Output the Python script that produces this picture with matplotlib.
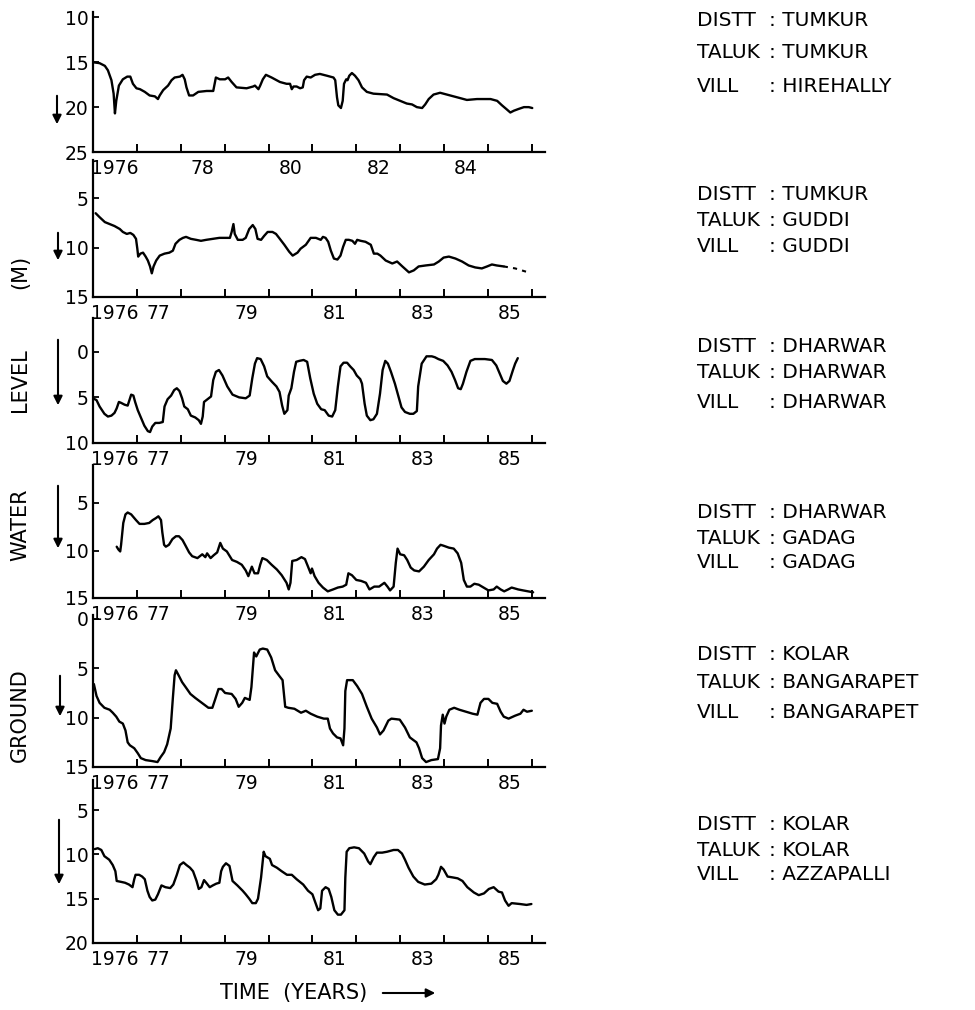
import matplotlib
matplotlib.use("Agg")
import matplotlib.pyplot as plt
from matplotlib.patches import FancyArrowPatch

plt.rcParams['font.family'] = ['DejaVu Sans']

# ==========================================
# DATA: depth to water below ground (m) vs time (years)
# ==========================================
# Tumkur / Tumkur / Hirehally
hire_t = [1976.00, 1976.15, 1976.27, 1976.34, 1976.42, 1976.47, 1976.50, 1976.53, 1976.59, 1976.68,
          1976.78, 1976.85, 1976.91, 1976.99, 1977.07, 1977.18, 1977.29, 1977.41, 1977.48, 1977.52,
          1977.60, 1977.71, 1977.79, 1977.86, 1977.98, 1978.04, 1978.09, 1978.13, 1978.19, 1978.28,
          1978.40, 1978.59, 1978.74, 1978.78, 1978.80, 1978.89, 1979.01, 1979.08, 1979.16, 1979.27,
          1979.50, 1979.65, 1979.69, 1979.77, 1979.81, 1979.87, 1979.94, 1980.07, 1980.26, 1980.41,
          1980.49, 1980.53, 1980.57, 1980.64, 1980.72, 1980.78, 1980.81, 1980.87, 1980.96, 1981.06,
          1981.17, 1981.33, 1981.48, 1981.52, 1981.56, 1981.59, 1981.65, 1981.69, 1981.72, 1981.77,
          1981.80, 1981.84, 1981.90, 1981.97, 1982.05, 1982.13, 1982.24, 1982.39, 1982.70, 1982.85,
          1983.00, 1983.15, 1983.27, 1983.38, 1983.50, 1983.57, 1983.65, 1983.76, 1983.91, 1984.14,
          1984.37, 1984.52, 1984.75, 1985.06, 1985.21, 1985.32, 1985.44, 1985.51, 1985.59, 1985.70,
          1985.82, 1985.93, 1986.01]
hire_d = [15.0, 15.1, 15.4, 15.9, 17.0, 18.5, 20.7, 19.3, 17.6, 16.9,
          16.6, 16.6, 17.4, 17.9, 18.0, 18.3, 18.7, 18.8, 19.1, 18.7,
          18.1, 17.6, 17.0, 16.7, 16.6, 16.4, 16.9, 17.8, 18.7, 18.7,
          18.3, 18.2, 18.2, 17.2, 16.7, 16.9, 16.9, 16.7, 17.2, 17.8,
          17.9, 17.7, 17.6, 18.0, 17.6, 16.9, 16.4, 16.7, 17.2, 17.4,
          17.4, 18.0, 17.7, 17.7, 17.9, 17.8, 17.0, 16.6, 16.7, 16.4,
          16.3, 16.5, 16.7, 17.0, 18.9, 19.8, 20.1, 19.3, 17.4, 16.9,
          17.0, 16.5, 16.2, 16.5, 17.0, 17.8, 18.3, 18.5, 18.6, 19.0,
          19.3, 19.6, 19.7, 20.0, 20.1, 19.7, 19.1, 18.6, 18.4, 18.7,
          19.0, 19.2, 19.1, 19.1, 19.3, 19.8, 20.3, 20.6, 20.4, 20.2,
          20.0, 20.0, 20.1]

# Tumkur / Guddi / Guddi
guddi_t = [1976.06, 1976.15, 1976.27, 1976.38, 1976.49, 1976.61, 1976.68, 1976.77, 1976.85, 1976.92,
           1976.98, 1977.01, 1977.03, 1977.08, 1977.14, 1977.20, 1977.25, 1977.30, 1977.34, 1977.38,
           1977.44, 1977.52, 1977.63, 1977.74, 1977.82, 1977.88, 1977.97, 1978.05, 1978.12, 1978.23,
           1978.35, 1978.46, 1978.58, 1978.73, 1978.88, 1979.03, 1979.12, 1979.16, 1979.20, 1979.23,
           1979.30, 1979.41, 1979.48, 1979.56, 1979.64, 1979.70, 1979.75, 1979.83, 1979.90, 1979.98,
           1980.09, 1980.17, 1980.24, 1980.36, 1980.47, 1980.55, 1980.66, 1980.73, 1980.85, 1980.96,
           1981.08, 1981.19, 1981.24, 1981.30, 1981.36, 1981.42, 1981.49, 1981.57, 1981.64, 1981.70,
           1981.76, 1981.83, 1981.91, 1981.97, 1982.02, 1982.10, 1982.21, 1982.33, 1982.40, 1982.48,
           1982.55, 1982.67, 1982.82, 1982.93, 1983.05, 1983.20, 1983.31, 1983.42, 1983.58, 1983.77,
           1983.88, 1983.99, 1984.11, 1984.26, 1984.41, 1984.56, 1984.71, 1984.86, 1984.98, 1985.09,
           1985.20, 1985.36]
guddi_d = [6.5, 6.9, 7.4, 7.6, 7.8, 8.1, 8.4, 8.6, 8.5, 8.7,
           9.1, 10.1, 10.9, 10.6, 10.5, 10.9, 11.3, 11.9, 12.6, 11.9,
           11.3, 10.8, 10.6, 10.5, 10.3, 9.6, 9.2, 9.0, 8.9, 9.1,
           9.2, 9.3, 9.2, 9.1, 9.0, 9.0, 9.0, 8.4, 7.6, 8.6,
           9.2, 9.2, 9.0, 8.1, 7.7, 8.1, 9.1, 9.2, 8.8, 8.4,
           8.4, 8.6, 9.0, 9.7, 10.4, 10.8, 10.5, 10.1, 9.7, 9.0,
           9.0, 9.2, 8.9, 9.0, 9.4, 10.3, 11.1, 11.2, 10.8, 9.9,
           9.2, 9.2, 9.3, 9.6, 9.2, 9.3, 9.4, 9.7, 10.6, 10.6,
           10.8, 11.3, 11.6, 11.4, 11.9, 12.5, 12.3, 11.9, 11.8, 11.7,
           11.4, 11.0, 10.9, 11.1, 11.4, 11.8, 12.0, 12.1, 11.9, 11.7,
           11.8, 11.9]
# dashed (extrapolated) end of the Guddi record
guddi_dash_t = [1985.36, 1985.62, 1985.92]
guddi_dash_d = [11.9, 12.1, 12.5]

# Dharwar / Dharwar / Dharwar
dhar_t = [1976.00, 1976.08, 1976.15, 1976.26, 1976.34, 1976.42, 1976.49, 1976.54, 1976.59, 1976.64,
          1976.72, 1976.79, 1976.83, 1976.87, 1976.92, 1976.96, 1977.02, 1977.10, 1977.17, 1977.25,
          1977.30, 1977.35, 1977.42, 1977.51, 1977.59, 1977.63, 1977.70, 1977.78, 1977.85, 1977.91,
          1977.97, 1978.03, 1978.08, 1978.16, 1978.23, 1978.33, 1978.41, 1978.46, 1978.50, 1978.53,
          1978.61, 1978.69, 1978.74, 1978.80, 1978.87, 1978.95, 1979.06, 1979.18, 1979.33, 1979.48,
          1979.57, 1979.63, 1979.69, 1979.74, 1979.82, 1979.90, 1979.97, 1980.08, 1980.18, 1980.25,
          1980.31, 1980.36, 1980.43, 1980.46, 1980.52, 1980.58, 1980.63, 1980.70, 1980.80, 1980.88,
          1980.95, 1981.03, 1981.11, 1981.20, 1981.28, 1981.37, 1981.45, 1981.52, 1981.58, 1981.64,
          1981.71, 1981.79, 1981.86, 1981.94, 1982.01, 1982.09, 1982.13, 1982.19, 1982.24, 1982.32,
          1982.39, 1982.47, 1982.54, 1982.60, 1982.66, 1982.72, 1982.79, 1982.88, 1982.96, 1983.03,
          1983.11, 1983.22, 1983.30, 1983.38, 1983.41, 1983.49, 1983.60, 1983.72, 1983.79, 1983.87,
          1983.98, 1984.08, 1984.17, 1984.25, 1984.32, 1984.38, 1984.43, 1984.51, 1984.60, 1984.70,
          1984.93, 1985.09, 1985.19, 1985.27, 1985.34, 1985.42, 1985.49, 1985.57, 1985.62, 1985.68]
dhar_d = [5.1, 5.3, 6.0, 6.8, 7.1, 7.0, 6.7, 6.2, 5.5, 5.6,
          5.8, 5.9, 5.3, 4.7, 4.8, 5.5, 6.4, 7.3, 8.1, 8.7,
          8.8, 8.2, 7.8, 7.8, 7.7, 6.0, 5.2, 4.8, 4.2, 4.0,
          4.3, 5.1, 6.0, 6.3, 7.0, 7.2, 7.5, 7.9, 7.1, 5.5,
          5.2, 4.9, 3.1, 2.2, 2.0, 2.6, 3.8, 4.7, 5.0, 5.1,
          4.8, 2.9, 1.3, 0.7, 0.8, 1.6, 2.7, 3.3, 3.8, 4.4,
          5.9, 6.8, 6.4, 4.8, 4.0, 2.2, 1.1, 1.0, 0.9, 1.1,
          2.9, 4.6, 5.7, 6.3, 6.4, 7.0, 7.1, 6.4, 3.8, 1.6,
          1.2, 1.2, 1.6, 2.0, 2.6, 3.0, 3.5, 5.7, 7.0, 7.5,
          7.4, 6.8, 4.6, 2.0, 1.0, 1.3, 2.2, 3.5, 4.9, 6.1,
          6.6, 6.8, 6.8, 6.5, 3.8, 1.3, 0.5, 0.5, 0.6, 0.8,
          1.0, 1.5, 2.2, 3.1, 4.0, 4.1, 3.5, 2.2, 1.0, 0.8,
          0.8, 0.9, 1.5, 2.4, 3.2, 3.5, 3.2, 2.0, 1.3, 0.7]

# Dharwar / Gadag / Gadag
gadag_t = [1976.54, 1976.58, 1976.62, 1976.64, 1976.69, 1976.74, 1976.79, 1976.87, 1976.98, 1977.06,
           1977.17, 1977.28, 1977.36, 1977.43, 1977.49, 1977.55, 1977.58, 1977.62, 1977.66, 1977.73,
           1977.81, 1977.89, 1977.96, 1978.04, 1978.11, 1978.19, 1978.26, 1978.38, 1978.49, 1978.56,
           1978.60, 1978.68, 1978.75, 1978.83, 1978.90, 1978.96, 1979.05, 1979.17, 1979.28, 1979.39,
           1979.48, 1979.54, 1979.62, 1979.68, 1979.76, 1979.81, 1979.86, 1979.96, 1980.07, 1980.19,
           1980.30, 1980.41, 1980.46, 1980.50, 1980.54, 1980.64, 1980.75, 1980.83, 1980.90, 1980.96,
           1980.99, 1981.05, 1981.14, 1981.24, 1981.35, 1981.47, 1981.58, 1981.69, 1981.77, 1981.82,
           1981.90, 1982.00, 1982.11, 1982.22, 1982.30, 1982.41, 1982.52, 1982.64, 1982.71, 1982.77,
           1982.85, 1982.90, 1982.94, 1983.00, 1983.09, 1983.16, 1983.24, 1983.32, 1983.43, 1983.54,
           1983.65, 1983.77, 1983.84, 1983.92, 1983.99, 1984.11, 1984.22, 1984.31, 1984.39, 1984.45,
           1984.52, 1984.60, 1984.69, 1984.79, 1984.90, 1985.01, 1985.13, 1985.20, 1985.29, 1985.37,
           1985.46, 1985.54, 1985.69, 1985.80, 1986.03]
gadag_d = [9.6, 9.9, 10.1, 9.4, 7.1, 6.2, 6.0, 6.2, 6.8, 7.2,
           7.2, 7.1, 6.8, 6.6, 6.4, 6.8, 8.1, 9.4, 9.6, 9.4,
           8.8, 8.5, 8.5, 8.9, 9.5, 10.2, 10.6, 10.8, 10.4, 10.7,
           10.3, 10.8, 10.5, 10.2, 9.2, 9.8, 10.1, 11.0, 11.2, 11.5,
           12.1, 12.7, 11.7, 12.4, 12.4, 11.5, 10.8, 11.0, 11.5, 12.0,
           12.6, 13.4, 14.1, 13.4, 11.1, 11.0, 10.7, 10.9, 11.7, 12.4,
           11.9, 12.7, 13.4, 13.9, 14.3, 14.1, 13.9, 13.8, 13.6, 12.4,
           12.6, 13.1, 13.2, 13.4, 14.1, 13.8, 13.8, 13.4, 13.8, 14.2,
           13.8, 11.3, 9.8, 10.4, 10.5, 11.0, 11.8, 12.1, 12.2, 11.7,
           11.0, 10.4, 9.8, 9.4, 9.5, 9.7, 9.8, 10.3, 11.3, 13.1,
           13.8, 13.8, 13.5, 13.6, 13.9, 14.2, 14.1, 13.8, 14.1, 14.3,
           14.1, 13.9, 14.1, 14.2, 14.4]

# Kolar / Bangarapet / Bangarapet
bang_t = [1976.02, 1976.08, 1976.15, 1976.26, 1976.38, 1976.45, 1976.53, 1976.60, 1976.68, 1976.74,
          1976.79, 1976.84, 1976.94, 1977.02, 1977.09, 1977.20, 1977.35, 1977.47, 1977.54, 1977.62,
          1977.69, 1977.77, 1977.82, 1977.86, 1977.89, 1977.95, 1978.03, 1978.11, 1978.22, 1978.33,
          1978.48, 1978.63, 1978.72, 1978.78, 1978.86, 1978.93, 1979.01, 1979.16, 1979.25, 1979.32,
          1979.40, 1979.46, 1979.57, 1979.61, 1979.67, 1979.72, 1979.80, 1979.87, 1979.97, 1980.06,
          1980.15, 1980.25, 1980.32, 1980.38, 1980.45, 1980.59, 1980.74, 1980.85, 1980.96, 1981.11,
          1981.26, 1981.35, 1981.40, 1981.47, 1981.56, 1981.64, 1981.70, 1981.73, 1981.75, 1981.79,
          1981.92, 1982.02, 1982.13, 1982.24, 1982.35, 1982.47, 1982.54, 1982.62, 1982.73, 1982.80,
          1982.99, 1983.11, 1983.22, 1983.37, 1983.43, 1983.50, 1983.59, 1983.71, 1983.86, 1983.91,
          1983.93, 1983.97, 1984.01, 1984.05, 1984.12, 1984.23, 1984.35, 1984.50, 1984.65, 1984.76,
          1984.83, 1984.91, 1985.01, 1985.10, 1985.21, 1985.29, 1985.36, 1985.47, 1985.62, 1985.74,
          1985.81, 1985.89, 1986.00]
bang_d = [6.6, 7.8, 8.5, 9.0, 9.2, 9.5, 9.9, 10.4, 10.6, 11.3,
          12.5, 12.8, 13.1, 13.6, 14.1, 14.3, 14.4, 14.5, 14.0, 13.5,
          12.7, 11.1, 8.0, 5.7, 5.2, 5.7, 6.4, 6.9, 7.6, 8.0,
          8.5, 9.0, 9.0, 8.2, 7.1, 7.1, 7.5, 7.6, 8.1, 8.9,
          8.5, 8.0, 8.2, 6.9, 3.4, 3.8, 3.1, 3.0, 3.1, 3.9,
          5.2, 5.8, 6.2, 8.9, 9.0, 9.1, 9.5, 9.3, 9.6, 9.9,
          10.1, 10.1, 11.1, 11.6, 12.0, 12.1, 12.8, 11.1, 7.3, 6.2,
          6.2, 6.8, 7.6, 8.9, 10.1, 11.0, 11.7, 11.3, 10.3, 10.1,
          10.2, 11.0, 12.0, 12.5, 13.1, 14.1, 14.5, 14.3, 14.2, 13.1,
          10.8, 9.7, 10.6, 9.9, 9.2, 9.0, 9.2, 9.4, 9.6, 9.7,
          8.5, 8.1, 8.1, 8.5, 8.6, 9.4, 9.9, 10.1, 9.8, 9.6,
          9.2, 9.4, 9.3]

# Kolar / Kolar / Azzapalli
azza_t = [1976.04, 1976.11, 1976.19, 1976.26, 1976.37, 1976.45, 1976.51, 1976.54, 1976.64, 1976.73,
          1976.82, 1976.90, 1976.94, 1976.97, 1977.05, 1977.12, 1977.18, 1977.24, 1977.29, 1977.35,
          1977.42, 1977.48, 1977.56, 1977.65, 1977.76, 1977.83, 1977.91, 1977.98, 1978.06, 1978.13,
          1978.21, 1978.28, 1978.36, 1978.41, 1978.47, 1978.53, 1978.58, 1978.66, 1978.73, 1978.81,
          1978.88, 1978.92, 1978.96, 1979.03, 1979.11, 1979.18, 1979.29, 1979.41, 1979.48, 1979.56,
          1979.63, 1979.71, 1979.76, 1979.83, 1979.89, 1979.93, 1980.03, 1980.08, 1980.19, 1980.30,
          1980.42, 1980.53, 1980.64, 1980.79, 1980.90, 1981.00, 1981.05, 1981.13, 1981.18, 1981.22,
          1981.30, 1981.37, 1981.43, 1981.50, 1981.58, 1981.65, 1981.73, 1981.75, 1981.78, 1981.84,
          1981.95, 1982.06, 1982.18, 1982.27, 1982.32, 1982.40, 1982.47, 1982.59, 1982.70, 1982.85,
          1982.95, 1983.04, 1983.11, 1983.19, 1983.30, 1983.41, 1983.56, 1983.71, 1983.82, 1983.87,
          1983.93, 1983.99, 1984.08, 1984.20, 1984.31, 1984.42, 1984.53, 1984.68, 1984.79, 1984.91,
          1985.02, 1985.13, 1985.24, 1985.32, 1985.39, 1985.47, 1985.54, 1985.73, 1985.88, 1985.99]
azza_d = [9.4, 9.3, 9.5, 10.2, 10.6, 11.2, 11.9, 13.0, 13.1, 13.2,
          13.4, 13.7, 12.8, 12.3, 12.3, 12.5, 12.8, 14.1, 14.8, 15.2,
          15.1, 14.5, 13.5, 13.7, 13.8, 13.4, 12.3, 11.2, 10.9, 11.2,
          11.5, 11.9, 13.0, 13.9, 13.7, 12.9, 13.2, 13.7, 13.5, 13.3,
          13.2, 11.9, 11.4, 11.0, 11.3, 13.0, 13.5, 14.1, 14.5, 15.0,
          15.5, 15.5, 15.0, 12.6, 9.7, 10.2, 10.5, 11.2, 11.5, 11.9,
          12.3, 12.3, 12.8, 13.4, 14.1, 14.5, 15.2, 16.3, 16.1, 14.1,
          13.7, 13.9, 14.8, 16.3, 16.8, 16.8, 16.3, 12.6, 9.7, 9.3,
          9.2, 9.3, 9.9, 10.8, 11.1, 10.3, 9.8, 9.8, 9.7, 9.5,
          9.5, 9.9, 10.6, 11.5, 12.5, 13.1, 13.4, 13.3, 12.8, 12.3,
          11.4, 11.7, 12.5, 12.6, 12.7, 13.0, 13.7, 14.3, 14.6, 14.4,
          13.9, 13.7, 14.2, 14.3, 15.2, 15.8, 15.5, 15.6, 15.7, 15.6]

# station labels
distt = ["TUMKUR", "TUMKUR", "DHARWAR", "DHARWAR", "KOLAR", "KOLAR"]
taluk = ["TUMKUR", "GUDDI", "DHARWAR", "GADAG", "BANGARAPET", "KOLAR"]
vill = ["HIREHALLY", "GUDDI", "DHARWAR", "GADAG", "BANGARAPET", "AZZAPALLI"]

# axis ticks
y_ticks = [[10, 15, 20, 25], [5, 10, 15], [0, 5, 10], [5, 10, 15], [0, 5, 10, 15], [5, 10, 15, 20]]
y_limits = [(25, 9.4), (15, 1.1), (10, -3.7), (15, 1.0), (15, -0.4), (20, 1.6)]
year_ticks = list(range(1976, 1987))
label_years_top = [1976, 1978, 1980, 1982, 1984]
label_text_top = ["1976", "78", "80", "82", "84"]
label_years = [1976, 1977, 1979, 1981, 1983, 1985]
label_text = ["1976", "77", "79", "81", "83", "85"]

series = [(hire_t, hire_d), (guddi_t, guddi_d), (dhar_t, dhar_d),
          (gadag_t, gadag_d), (bang_t, bang_d), (azza_t, azza_d)]

# ==========================================
# LAYOUT (pixels of a 975 x 1010 canvas)
# ==========================================
W, H = 975, 1010
fig = plt.figure(figsize=(W / 100, H / 100), dpi=100)

def fx(x):
    return x / W

def fy(y):
    return 1 - y / H

rows = [(12, 152), (160, 297), (318, 443), (465, 598), (615, 767), (780, 943)]
text_rows = [(20, 53, 86), (194, 221, 247), (346, 373, 402),
             (513, 538, 563), (655, 683, 712), (825, 850, 875)]
arrows = [(57, 93, 127), (58, 230, 263), (58, 337, 408),
          (58, 483, 551), (60, 673, 719), (59, 817, 887)]
left, right = 93, 545

for i, (t, d) in enumerate(series):
    top, bot = rows[i]
    ax = fig.add_axes([fx(left), fy(bot), (right - left) / W, (bot - top) / H])
    ax.patch.set_alpha(0)
    ax.plot(t, d, color="black", lw=1.7, solid_joinstyle="round", solid_capstyle="round")
    if i == 1:
        ax.plot(guddi_dash_t, guddi_dash_d, color="black", lw=1.5, ls=(0, (2, 2.5)))
    ax.set_xlim(1976, 1986.3)
    ax.set_ylim(*y_limits[i])
    for s in ["top", "right"]:
        ax.spines[s].set_visible(False)
    for s in ["left", "bottom"]:
        ax.spines[s].set_linewidth(1.6)

    ax.set_xticks(year_ticks)
    ax.set_xticklabels([])
    if i == 0:
        ax.set_xticks([y + 0.5 for y in label_years_top], minor=True)
        ax.set_xticklabels(label_text_top, minor=True)
    else:
        ax.set_xticks([y + 0.5 for y in label_years], minor=True)
        ax.set_xticklabels(label_text, minor=True)
    ax.tick_params(axis="x", which="major", direction="in", length=6, width=1.4)
    ax.tick_params(axis="x", which="minor", length=0, pad=5, labelsize=13.5)

    ax.set_yticks(y_ticks[i])
    ax.tick_params(axis="y", direction="in", length=4, width=1.3, pad=3, labelsize=13.5)

    # station description on the right
    for label, val, yy in zip(["DISTT", "TALUK", "VILL"], [distt[i], taluk[i], vill[i]], text_rows[i]):
        fig.text(fx(697), fy(yy), label, fontsize=14.5, va="center", ha="left")
        fig.text(fx(769), fy(yy), ": " + val, fontsize=14.5, va="center", ha="left")

    # downward arrow beside the depth axis
    x, y0, y1 = arrows[i]
    fig.add_artist(FancyArrowPatch((fx(x), fy(y0)), (fx(x), fy(y1)), transform=fig.transFigure,
                                   arrowstyle="-|>", mutation_scale=13, lw=1.5, color="black"))

# y label, spread over the height of the stack
for word, yy in zip(["GROUND", "WATER", "LEVEL", "(M)"], [715, 525, 380, 272]):
    fig.text(fx(20), fy(yy), word, rotation=90, fontsize=15, ha="center", va="center")

fig.text(fx(294), fy(993), "TIME  (YEARS)", fontsize=15, ha="center", va="center")
fig.add_artist(FancyArrowPatch((fx(380), fy(993)), (fx(438), fy(993)), transform=fig.transFigure,
                               arrowstyle="-|>", mutation_scale=13, lw=1.5, color="black"))

fig.savefig("out.png", dpi=100, facecolor="white")
